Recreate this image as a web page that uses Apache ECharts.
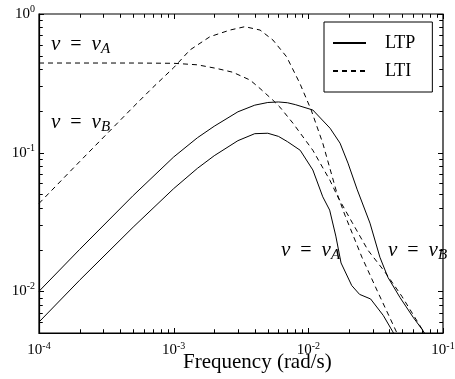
<!DOCTYPE html>
<html>
<head>
<meta charset="utf-8">
<script src="https://cdn.jsdelivr.net/npm/echarts@6/dist/echarts.min.js"></script>
<style>
  html, body { margin: 0; padding: 0; background: #fff; }
  #chart { width: 455px; height: 379px; }
</style>
</head>
<body>
<div id="chart"></div>
<script>
// LTP, v = vB (upper solid)
const ltpB = [
  [1e-4, 0.01], [2e-4, 0.02], [5e-4, 0.049], [1e-3, 0.093], [1.5e-3, 0.128], [2e-3, 0.155],
  [3e-3, 0.197], [4e-3, 0.22], [5e-3, 0.23], [6e-3, 0.232], [7e-3, 0.229],
  [8e-3, 0.222], [0.0108, 0.203], [0.0145, 0.150], [0.0172, 0.117],
  [0.0197, 0.084], [0.023, 0.0545], [0.0287, 0.031], [0.034, 0.0176],
  [0.039, 0.0126], [0.048, 0.009], [0.06, 0.0065], [0.071, 0.0052], [0.077, 0.0045]
];
// LTP, v = vA (lower solid)
const ltpA = [
  [1e-4, 0.006], [2e-4, 0.012], [5e-4, 0.029], [1e-3, 0.055], [1.5e-3, 0.077], [2e-3, 0.095],
  [3e-3, 0.122], [4e-3, 0.137], [5e-3, 0.138], [6e-3, 0.131], [7e-3, 0.12],
  [8.7e-3, 0.104], [0.0108, 0.075], [0.0128, 0.048], [0.0144, 0.0385],
  [0.0160, 0.025], [0.0175, 0.016], [0.021, 0.011], [0.024, 0.0095],
  [0.029, 0.0088], [0.036, 0.0067], [0.0424, 0.0051], [0.045, 0.0045]
];
// LTI, v = vA (flat dashed)
const ltiA = [
  [1e-4, 0.443], [5e-4, 0.443], [1e-3, 0.441], [1.5e-3, 0.43], [2.08e-3, 0.405],
  [2.75e-3, 0.38], [3.69e-3, 0.334], [4.38e-3, 0.29], [5.46e-3, 0.239],
  [6.15e-3, 0.213], [7.69e-3, 0.163], [0.0108, 0.104], [0.01445, 0.0633],
  [0.0166, 0.0477], [0.0211, 0.0315], [0.0277, 0.0198], [0.0372, 0.0137],
  [0.0495, 0.0092], [0.071, 0.0052], [0.077, 0.0045]
];
// LTI, v = vB (rising dashed with peak)
const ltiB = [
  [1e-4, 0.043], [2e-4, 0.086], [5e-4, 0.213], [7e-4, 0.295], [1e-3, 0.41],
  [1.32e-3, 0.55], [1.86e-3, 0.686], [2.62e-3, 0.766], [3.38e-3, 0.81],
  [4.38e-3, 0.766], [5.46e-3, 0.649], [6.9e-3, 0.491], [8.65e-3, 0.316],
  [0.0105, 0.203], [0.0128, 0.117], [0.0163, 0.051], [0.0187, 0.0354],
  [0.025, 0.0176], [0.0323, 0.0102], [0.0455, 0.005], [0.048, 0.0044]
];

const xLabelValues = [1e-4, 1e-3, 1e-2, 1e-1];
const yLabelValues = [0.01, 0.1, 1];
const xTickDecades = [-4, -3, -2];
const yTickDecades = [-3, -2, -1];

function tickList(decades, lo, hi) {
  const out = [];
  decades.forEach(d => {
    for (let k = 1; k <= 9; k++) {
      const v = k * Math.pow(10, d);
      if (v >= lo * 0.999 && v <= hi * 1.001) out.push([v, k === 1 ? 1 : 0]);
    }
  });
  out.push([hi, 1]);
  return out;
}
const xTicks = tickList(xTickDecades, 1e-4, 1e-1);
const yTicks = tickList(yTickDecades, 0.005, 1);

const serif = 'Liberation Serif';
const powFmt = v => '{b|10}{e|' + Math.round(Math.log10(v)) + '}';
const powRich = {
  b: { fontFamily: serif, fontSize: 15, color: '#000' },
  e: { fontFamily: serif, fontSize: 10, color: '#000', padding: [0, 0, 9, 0] }
};
const mathRich = {
  i: { fontFamily: serif, fontStyle: 'italic', fontSize: 21, color: '#000' },
  n: { fontFamily: serif, fontSize: 20, color: '#000' },
  s: { fontFamily: serif, fontStyle: 'italic', fontSize: 15, color: '#000', padding: [10, 0, 0, 0] }
};
const mathText = sub => '{i|v}{n|  =  }{i|v}{s|' + sub + '}';

function makeAxis(pos, min, max, labels) {
  return {
    type: 'log', logBase: 10, position: pos, min: min, max: max,
    axisLine: { show: true, onZero: false, lineStyle: { color: '#000', width: 1.2 } },
    axisTick: { show: false },
    minorTick: { show: false },
    splitLine: { show: false },
    axisLabel: {
      customValues: labels, formatter: powFmt, rich: powRich,
      margin: pos === 'bottom' ? 8 : 4
    }
  };
}

const lineSeries = (name, data, dashed) => ({
  name: name, type: 'line', data: data, symbol: 'none', showSymbol: false,
  itemStyle: { color: '#000' },
  lineStyle: { color: '#000', width: 1, type: dashed ? [5, 4] : 'solid' }
});

const tickRect = (x, y, w, h) => ({
  type: 'rect', shape: { x: x, y: y, width: w, height: h }, style: { fill: '#000' }
});

// inward ticks on all four sides, placed through the axes' scales
const tickSeries = (name, data, isX) => ({
  name: name, type: 'custom',
  data: data.map(t => isX ? [t[0], 0.1, t[1]] : [1e-3, t[0], t[1]]),
  renderItem: (params, api) => {
    const len = api.value(2) ? 5 : 3.5;
    const p = api.coord([api.value(0), api.value(1)]);
    const cs = params.coordSys;
    if (isX) {
      const px = Math.round(p[0]);
      return { type: 'group', children: [
        tickRect(px, cs.y + cs.height - len, 1, len),
        tickRect(px, cs.y, 1, len)
      ] };
    }
    const py = Math.round(p[1]);
    return { type: 'group', children: [
      tickRect(cs.x, py, len, 1),
      tickRect(cs.x + cs.width - len, py, len, 1)
    ] };
  }
});

const texts = [
  { type: 'text', left: 51, top: 34, style: { text: mathText('A'), rich: mathRich } },
  { type: 'text', left: 51, top: 112, style: { text: mathText('B'), rich: mathRich } },
  { type: 'text', left: 281, top: 240, style: { text: mathText('A'), rich: mathRich } },
  { type: 'text', left: 388, top: 240, style: { text: mathText('B'), rich: mathRich } },
  { type: 'text', left: 183, top: 352,
    style: { text: 'Frequency (rad/s)', fontFamily: serif, fontSize: 21, fill: '#000' } }
];

const chart = echarts.init(document.getElementById('chart'));
chart.setOption({
  animation: false,
  backgroundColor: '#fff',
  // grid border draws the top and right sides of the frame
  grid: { left: 39, right: 12, top: 14, bottom: 46, outerBoundsMode: 'none',
          show: true, borderColor: '#000', borderWidth: 1.2, backgroundColor: 'transparent' },
  xAxis: makeAxis('bottom', 1e-4, 1e-1, xLabelValues),
  yAxis: makeAxis('left', 0.005, 1, yLabelValues),
  legend: {
    orient: 'vertical', left: 324, top: 22,
    data: ['LTP', 'LTI'],
    itemWidth: 33, itemHeight: 14, itemGap: 10,
    padding: [12, 17, 12, 8],
    itemStyle: { opacity: 0 },
    borderColor: '#000', borderWidth: 1, backgroundColor: '#fff',
    textStyle: { fontFamily: serif, fontSize: 18, color: '#000', padding: [0, 0, 0, 14] }
  },
  graphic: texts,
  series: [
    lineSeries('LTP', ltpB, false),
    lineSeries('LTP', ltpA, false),
    lineSeries('LTI', ltiA, true),
    lineSeries('LTI', ltiB, true),
    tickSeries('xticks', xTicks, true),
    tickSeries('yticks', yTicks, false)
  ]
});

// same ticks again as graphic elements, in case the custom series is not drawn
const xl = chart.convertToPixel({ xAxisIndex: 0 }, 1e-4);
const xr = chart.convertToPixel({ xAxisIndex: 0 }, 1e-1);
const yb = chart.convertToPixel({ yAxisIndex: 0 }, 0.005);
const yt = chart.convertToPixel({ yAxisIndex: 0 }, 1);
const tickEls = [];
xTicks.forEach(t => {
  const px = Math.round(chart.convertToPixel({ xAxisIndex: 0 }, t[0]));
  const len = t[1] ? 5 : 3.5;
  tickEls.push(tickRect(px, yb - len, 1, len), tickRect(px, yt, 1, len));
});
yTicks.forEach(t => {
  const py = Math.round(chart.convertToPixel({ yAxisIndex: 0 }, t[0]));
  const len = t[1] ? 5 : 3.5;
  tickEls.push(tickRect(xl, py, len, 1), tickRect(xr - len, py, len, 1));
});
chart.setOption({ graphic: texts.concat(tickEls) });
</script>
</body>
</html>
